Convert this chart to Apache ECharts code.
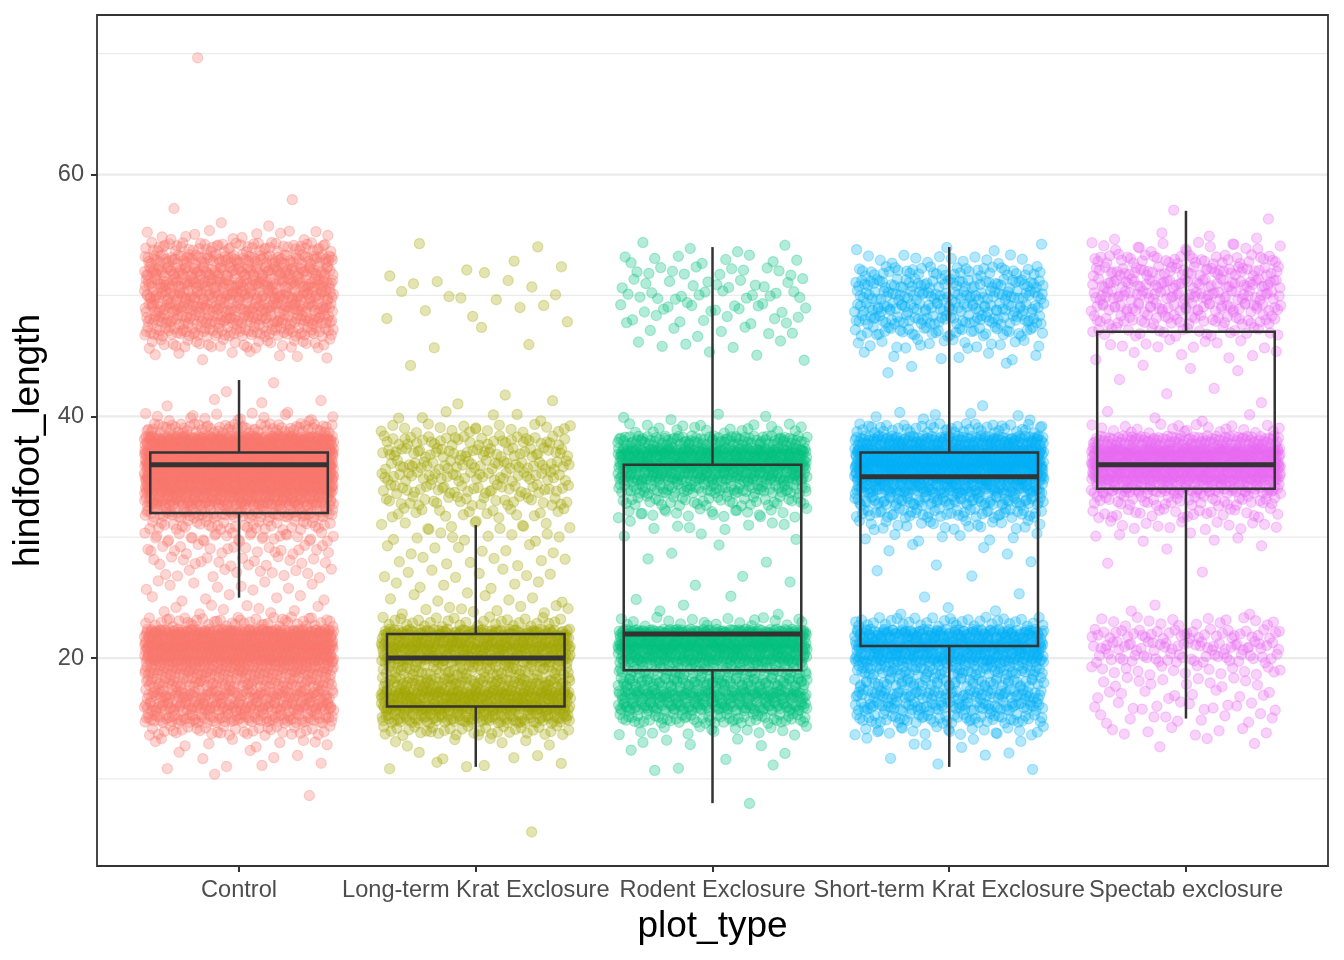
<!DOCTYPE html>
<html>
<head>
<meta charset="utf-8">
<script src="https://cdn.jsdelivr.net/npm/echarts@6/dist/echarts.min.js"></script>
<style>
html,body{margin:0;padding:0;background:#fff;}
#chart{width:1344px;height:960px;}
</style>
</head>
<body>
<div id="chart"></div>
<script>
// ---- Data ----
const categories = ['Control', 'Long-term Krat Exclosure', 'Rodent Exclosure', 'Short-term Krat Exclosure', 'Spectab exclosure'];
const colors = ['#F8766D', '#A3A500', '#00BF7D', '#00B0F6', '#E76BF3'];

// hindfoot_length value -> number of plotted observations (estimated from point density)
const controlFreq = [
  [70,1],[58,1],[57,1],[56,2],[55,14],[54,55],[53,100],[52,115],[51,120],[50,120],[49,115],[48,105],[47,80],[46,30],[45,8],
  [43,1],[42,1],[41,4],[40,16],[39,70],[38,260],[37,320],[36,360],[35,320],[34,260],[33,170],[32,90],
  [31,40],[30,30],[29,22],[28,18],[27,13],[26,10],[25,7],[24,10],[23,45],[22,240],[21,280],[20,240],[19,130],
  [18,100],[17,120],[16,130],[15,100],[14,35],[13,10],[12,5],[11,4],[10,1],[9,1]
];
const longtermFreq = [
  [54,2],[53,1],[52,4],[51,4],[50,5],[49,3],[48,3],[47,1],[46,2],[44,1],
  [42,1],[41,2],[40,6],[39,20],[38,38],[37,44],[36,44],[35,40],[34,36],[33,28],[32,18],[31,12],[30,10],
  [29,8],[28,8],[27,8],[26,6],[25,8],[24,10],[23,30],[22,150],[21,170],[20,150],[19,70],[18,100],
  [17,170],[16,180],[15,100],[14,35],[13,7],[12,4],[11,5],[6,1]
];
const rodentFreq = [
  [54,4],[53,9],[52,12],[51,13],[50,15],[49,14],[48,10],[47,7],[46,5],[45,3],
  [40,4],[39,20],[38,100],[37,200],[36,200],[35,140],[34,80],[33,40],[32,22],[31,8],[30,3],
  [29,2],[28,2],[27,1],[26,2],[25,2],[24,3],[23,20],[22,200],[21,220],[20,170],[19,80],[18,100],
  [17,140],[16,120],[15,60],[14,15],[13,5],[12,3],[11,3],[8,1]
];
const shorttermFreq = [
  [54,4],[53,14],[52,40],[51,60],[50,65],[49,65],[48,60],[47,40],[46,18],[45,7],[44,3],
  [41,1],[40,7],[39,45],[38,150],[37,240],[36,260],[35,220],[34,130],[33,80],[32,50],[31,22],[30,8],
  [29,4],[28,2],[27,2],[25,2],[24,3],[23,35],[22,150],[21,180],[20,150],[19,80],[18,65],[17,85],
  [16,80],[15,55],[14,22],[13,6],[12,3],[11,2]
];
const spectabFreq = [
  [57,1],[56,1],[55,4],[54,16],[53,38],[52,52],[51,58],[50,58],[49,52],[48,42],[47,25],[46,10],[45,6],[44,3],[43,1],[42,2],
  [41,1],[40,4],[39,22],[38,110],[37,240],[36,260],[35,200],[34,100],[33,40],[32,26],[31,14],[30,6],[29,2],[28,1],
  [27,1],[24,3],[23,16],[22,38],[21,42],[20,34],[19,18],[18,13],[17,11],[16,13],[15,11],[14,8],[13,3]
];
const groupFreqs = [controlFreq, longtermFreq, rodentFreq, shorttermFreq, spectabFreq];

// box plot statistics
const boxLower  = [25, 11, 8, 11, 15];
const boxQ1     = [32, 16, 19, 21, 34];
const boxMedian = [36, 20, 22, 35, 36];
const boxQ3     = [37, 22, 36, 37, 47];
const boxUpper  = [43, 31, 54, 54, 57];

const yTicks = [20, 40, 60];
const yMajorGrid = [20, 40, 60];
const yMinorGrid = [10, 30, 50, 70];

// ---- build ----
const JW = 0.4, JH = 0.4;   // ggplot geom_jitter default width/height
// deterministic Halton low-discrepancy sequence used for the jitter offsets
function halton(i, b){ let f = 1, r = 0; while (i > 0){ f /= b; r += f * (i % b); i = Math.floor(i / b); } return r; }

const scatterSeries = groupFreqs.map(function(freq, g){
  const pts = [];
  let k = 17 + g * 3001;
  freq.forEach(function(p){
    for (let i = 0; i < p[1]; i++){
      k++;
      const dx = (halton(k, 2) * 2 - 1) * JW;
      const dy = (halton(k, 3) * 2 - 1) * JH;
      pts.push([g + 1 + dx, p[0] + dy]);
    }
  });
  const c = echarts.color.modifyAlpha(colors[g], 0.3);
  return {
    type: 'scatter', data: pts, symbolSize: 10.2, z: 2,
    silent: true, progressive: 0, large: false, animation: false,
    itemStyle: { color: c, borderColor: c, borderWidth: 1.2, opacity: 1 }
  };
});

const boxData = categories.map(function(_, i){ return [i + 1, boxLower[i], boxQ1[i], boxMedian[i], boxQ3[i], boxUpper[i]]; });

// panel grid lines (value, line width)
const gridData = yMinorGrid.map(function(v){ return [v, 1.2]; }).concat(yMajorGrid.map(function(v){ return [v, 2.2]; }));
const gridSeries = {
  type: 'custom', data: gridData, z: 1, silent: true, animation: false,
  encode: { y: 0 },
  renderItem: function(params, api){
    const cs = params.coordSys;
    const p = api.coord([0.4, api.value(0)]);
    return { type: 'line', shape: { x1: cs.x, y1: p[1], x2: cs.x + cs.width, y2: p[1] },
      style: { stroke: '#ebebeb', lineWidth: api.value(1) } };
  }
};

const boxSeries = {
  type: 'custom', data: boxData, z: 5, silent: true, animation: false,
  encode: { x: 0, y: [1, 2, 3, 4, 5] },
  renderItem: function(params, api){
    const x = api.value(0), half = 0.375;
    const pL = api.coord([x - half, api.value(4)]);
    const pR = api.coord([x + half, api.value(2)]);
    const med = api.coord([x, api.value(3)]);
    const lo = api.coord([x, api.value(1)]);
    const hi = api.coord([x, api.value(5)]);
    const q1 = api.coord([x, api.value(2)]);
    const q3 = api.coord([x, api.value(4)]);
    const stroke = '#333333';
    return {
      type: 'group',
      children: [
        { type: 'line', shape: { x1: hi[0], y1: hi[1], x2: q3[0], y2: q3[1] }, style: { stroke: stroke, lineWidth: 2.5 } },
        { type: 'line', shape: { x1: q1[0], y1: q1[1], x2: lo[0], y2: lo[1] }, style: { stroke: stroke, lineWidth: 2.5 } },
        { type: 'rect', shape: { x: pL[0], y: pL[1], width: pR[0] - pL[0], height: pR[1] - pL[1] }, style: { fill: 'none', stroke: stroke, lineWidth: 2.5 } },
        { type: 'line', shape: { x1: pL[0], y1: med[1], x2: pR[0], y2: med[1] }, style: { stroke: stroke, lineWidth: 5 } }
      ]
    };
  }
};

const chart = echarts.init(document.getElementById('chart'), null, { renderer: 'canvas' });
chart.setOption({
  animation: false,
  backgroundColor: '#ffffff',
  textStyle: { fontFamily: 'Liberation Sans, Arial, sans-serif' },
  grid: { left: 97, top: 15, width: 1231, height: 851, show: true, borderColor: '#333333', borderWidth: 1.8, backgroundColor: 'transparent', z: 10 },
  xAxis: {
    type: 'value', min: 0.4, max: 5.6,
    name: 'plot_type', nameLocation: 'middle', nameGap: 42,
    nameTextStyle: { fontSize: 37, color: '#000000', fontFamily: 'Liberation Sans, Arial, sans-serif' },
    axisLine: { show: false },
    axisTick: { show: true, customValues: [1, 2, 3, 4, 5], length: 6, lineStyle: { color: '#333333', width: 2 } },
    axisLabel: { customValues: [1, 2, 3, 4, 5], margin: 12, fontSize: 23.6, color: '#4d4d4d',
      formatter: function(v){ return categories[Math.round(v) - 1] || ''; } },
    splitLine: { show: false }
  },
  yAxis: {
    type: 'value', min: 2.8, max: 73.2,
    name: 'hindfoot_length', nameLocation: 'middle', nameGap: 44,
    nameTextStyle: { fontSize: 37, color: '#000000', fontFamily: 'Liberation Sans, Arial, sans-serif' },
    axisLine: { show: false },
    axisTick: { show: true, customValues: yTicks, length: 6, lineStyle: { color: '#333333', width: 2 } },
    axisLabel: { customValues: yTicks, margin: 13, fontSize: 23.6, color: '#4d4d4d' },
    splitLine: { show: false }
  },
  series: [gridSeries].concat(scatterSeries).concat([boxSeries])
});
</script>
</body>
</html>
